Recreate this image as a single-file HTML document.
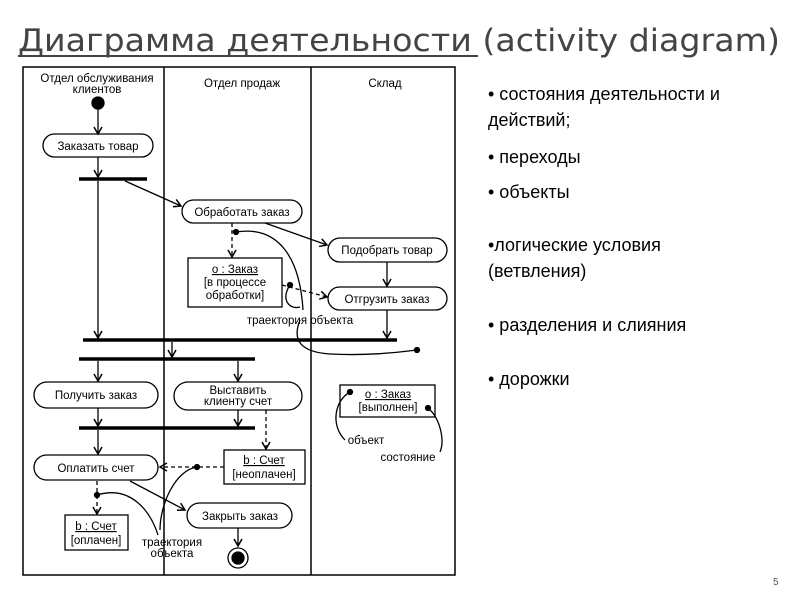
<!DOCTYPE html>
<html><head><meta charset="utf-8"><style>
html,body{margin:0;padding:0;background:#fff;width:800px;height:600px;overflow:hidden}
svg{display:block}
</style></head><body>
<svg width="800" height="600" viewBox="0 0 800 600" xmlns="http://www.w3.org/2000/svg">
<defs>
<marker id="a" markerWidth="10" markerHeight="10" refX="8" refY="5" orient="auto" markerUnits="userSpaceOnUse">
<path d="M1,1 L8,5 L1,9" fill="none" stroke="#000" stroke-width="1.5"/></marker>
</defs>
<!-- title -->
<text x="18" y="51" font-family="DejaVu Sans, sans-serif" font-size="31" fill="#444" textLength="762" lengthAdjust="spacingAndGlyphs">Диаграмма деятельности (activity diagram)</text>
<line x1="18" y1="56" x2="478" y2="56" stroke="#444" stroke-width="2"/>

<g font-family="Liberation Sans, sans-serif" font-size="11.5" fill="#000" stroke="none" text-anchor="middle">
<!-- frame -->
<rect x="23" y="67" width="432" height="508" fill="none" stroke="#000" stroke-width="1.5"/>
<line x1="164" y1="67" x2="164" y2="575" stroke="#000" stroke-width="1.5"/>
<line x1="311" y1="67" x2="311" y2="575" stroke="#000" stroke-width="1.5"/>
<text x="97" y="82">Отдел обслуживания</text>
<text x="97" y="93">клиентов</text>
<text x="242" y="87">Отдел продаж</text>
<text x="385" y="87">Склад</text>

<g stroke="#000" stroke-width="1.3" fill="none">
<!-- initial -->
<circle cx="98" cy="103" r="6" fill="#000"/>
<line x1="98" y1="109" x2="98" y2="134" marker-end="url(#a)"/>
<rect x="43" y="134" width="110" height="23" rx="11.5"/>
<line x1="98" y1="157" x2="98" y2="177" marker-end="url(#a)"/>
<line x1="79" y1="179" x2="147" y2="179" stroke-width="3.5"/>
<line x1="98" y1="181" x2="98" y2="338" marker-end="url(#a)"/>
<line x1="125" y1="181" x2="181" y2="206" marker-end="url(#a)"/>
<rect x="182" y="200" width="120" height="23" rx="11.5"/>
<line x1="265" y1="223" x2="327" y2="245" marker-end="url(#a)"/>
<rect x="328" y="238" width="119" height="24" rx="12"/>
<line x1="232" y1="223" x2="232" y2="257" stroke-dasharray="4,3" marker-end="url(#a)"/>
<rect x="188" y="258" width="94" height="49"/>
<line x1="282" y1="285" x2="327" y2="297" stroke-dasharray="4,3" marker-end="url(#a)"/>
<rect x="328" y="287" width="119" height="23" rx="11.5"/>
<line x1="387" y1="262" x2="387" y2="286" marker-end="url(#a)"/>
<line x1="387" y1="310" x2="387" y2="338" marker-end="url(#a)"/>
<line x1="83" y1="340" x2="397" y2="340" stroke-width="3.5"/>
<!-- trajectory 1 -->
<circle cx="236" cy="232" r="2.5" fill="#000"/>
<path d="M236,232 C280,225 300,260 303,310"/>
<circle cx="290" cy="285" r="2.5" fill="#000"/>
<path d="M290,285 C280,300 290,310 300,307"/>
<path d="M300,320 C292,340 300,352 330,354 C370,356 400,352 417,350"/>
<circle cx="417" cy="350" r="2.5" fill="#000"/>

<line x1="172" y1="342" x2="172" y2="357" marker-end="url(#a)"/>
<line x1="79" y1="359" x2="255" y2="359" stroke-width="3.5"/>
<line x1="98" y1="361" x2="98" y2="381" marker-end="url(#a)"/>
<line x1="238" y1="361" x2="238" y2="381" marker-end="url(#a)"/>
<rect x="34" y="382" width="124" height="26" rx="13"/>
<rect x="174" y="382" width="128" height="28" rx="14"/>
<line x1="98" y1="408" x2="98" y2="426" marker-end="url(#a)"/>
<line x1="238" y1="410" x2="238" y2="426" marker-end="url(#a)"/>
<line x1="79" y1="428" x2="255" y2="428" stroke-width="3.5"/>
<line x1="98" y1="430" x2="98" y2="454" marker-end="url(#a)"/>
<rect x="34" y="455" width="124" height="25" rx="12.5"/>
<line x1="266" y1="410" x2="266" y2="449" stroke-dasharray="4,3" marker-end="url(#a)"/>
<rect x="224" y="450" width="81" height="34"/>
<line x1="224" y1="467" x2="160" y2="467" stroke-dasharray="4,3" marker-end="url(#a)"/>
<circle cx="197" cy="467" r="2.5" fill="#000"/>
<line x1="130" y1="481" x2="185" y2="510" marker-end="url(#a)"/>
<rect x="187" y="503" width="105" height="25" rx="12.5"/>
<line x1="238" y1="528" x2="238" y2="546" marker-end="url(#a)"/>
<circle cx="238" cy="558" r="10"/>
<circle cx="238" cy="558" r="6" fill="#000"/>
<line x1="97" y1="481" x2="97" y2="514" stroke-dasharray="4,3" marker-end="url(#a)"/>
<rect x="65" y="515" width="63" height="35"/>
<circle cx="97" cy="495" r="2.5" fill="#000"/>
<path d="M97,495 C130,485 150,510 158,535"/>
<path d="M197,467 C175,470 160,505 160,530"/>
<!-- right object -->
<rect x="340" y="385" width="95" height="32"/>
<circle cx="350" cy="392" r="2.5" fill="#000"/>
<path d="M350,392 C335,400 330,425 345,440"/>
<circle cx="428" cy="408" r="2.5" fill="#000"/>
<path d="M428,408 C440,418 445,440 440,452"/>
</g>

<text x="98" y="150">Заказать товар</text>
<text x="242" y="216">Обработать заказ</text>
<text x="387" y="254">Подобрать товар</text>
<text x="235" y="273" text-decoration="underline">о : Заказ</text>
<text x="235" y="286">[в процессе</text>
<text x="235" y="299">обработки]</text>
<text x="387" y="303">Отгрузить заказ</text>
<text x="300" y="324">траектория объекта</text>
<text x="96" y="399">Получить заказ</text>
<text x="238" y="394">Выставить</text>
<text x="238" y="405">клиенту счет</text>
<text x="96" y="472">Оплатить счет</text>
<text x="264" y="464" text-decoration="underline">b : Счет</text>
<text x="264" y="478">[неоплачен]</text>
<text x="240" y="520">Закрыть заказ</text>
<text x="96" y="530" text-decoration="underline">b : Счет</text>
<text x="96" y="544">[оплачен]</text>
<text x="172" y="546">траектория</text>
<text x="172" y="557">объекта</text>
<text x="388" y="398" text-decoration="underline">о : Заказ</text>
<text x="388" y="411">[выполнен]</text>
<text x="366" y="444">объект</text>
<text x="408" y="461">состояние</text>
</g>

<g font-family="Liberation Sans, sans-serif" font-size="18" fill="#000">
<text x="488" y="100">• состояния деятельности и</text>
<text x="488" y="126">действий;</text>
<text x="488" y="163">• переходы</text>
<text x="488" y="198">• объекты</text>
<text x="488" y="251">•логические условия</text>
<text x="488" y="277">(ветвления)</text>
<text x="488" y="331">• разделения и слияния</text>
<text x="488" y="385">• дорожки</text>
</g>
<text x="773" y="585" font-family="Liberation Sans, sans-serif" font-size="10" fill="#555">5</text>
</svg>
</body></html>
